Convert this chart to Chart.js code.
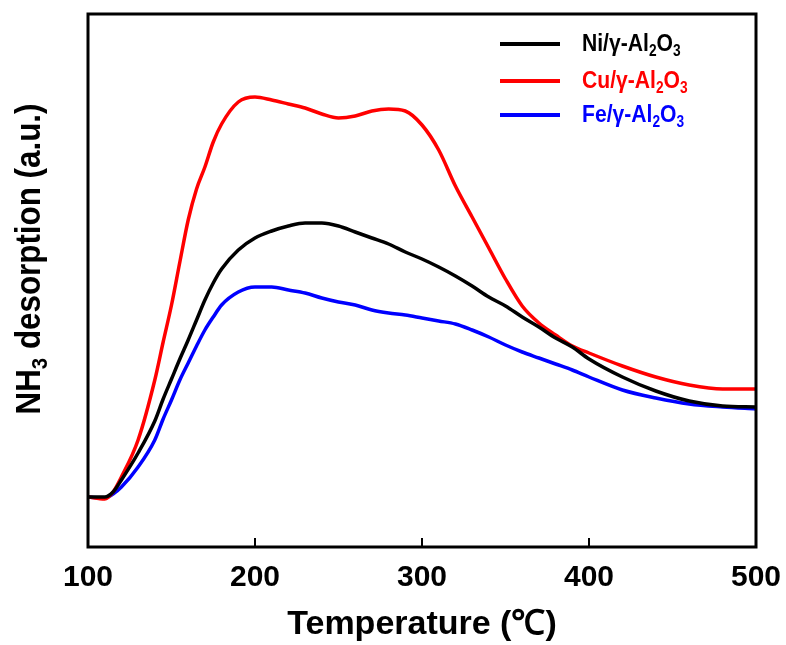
<!DOCTYPE html>
<html>
<head>
<meta charset="utf-8">
<script src="https://cdn.jsdelivr.net/npm/chart.js@4.4.1/dist/chart.umd.min.js"></script>
<style>
  html, body { margin: 0; padding: 0; background: #fff; }
  #wrap { width: 786px; height: 645px; }
</style>
</head>
<body>
<div id="wrap"><canvas id="tpdChart" width="786" height="645"></canvas></div>
<script>
// NH3-TPD curves (a.u., arbitrary units)
const temps = [100, 110, 115, 120, 130, 140, 145, 150, 155, 160, 165, 170, 175, 180, 190, 200, 210, 220, 230, 240,
  250, 260, 270, 280, 290, 300, 310, 320, 330, 340, 350, 360, 370, 380, 390, 400, 420, 440, 460, 480, 500];
const niValues = [50, 50, 55, 67, 94, 126, 148, 168, 188, 207, 227, 247, 264, 278, 297, 309, 316, 321, 324, 324,
  321, 315, 309, 303, 295, 288, 280, 271, 261, 250, 241, 230, 220, 209, 200, 188, 170, 156, 146, 141, 140];
const cuValues = [50, 48, 55, 70, 107, 167, 205, 242, 285, 327, 358, 380, 405, 423, 445, 450, 447, 443, 439, 433,
  429, 431, 436, 438, 436, 422, 397, 361, 330, 299, 268, 241, 224, 212, 201, 194, 181, 170, 162, 158, 158];
const feValues = [50, 49, 53, 60, 80, 107, 128, 147, 167, 184, 201, 217, 230, 242, 255, 260, 260, 257, 254, 249,
  245, 242, 237, 234, 232, 229, 226, 223, 217, 210, 202, 195, 189, 183, 177, 170, 157, 149, 143, 140, 138];
const seriesLabels = ['Ni/γ-Al₂O₃', 'Cu/γ-Al₂O₃', 'Fe/γ-Al₂O₃'];
const seriesColors = ['#000000', '#ff0000', '#0000ff'];
const xTicks = [100, 200, 300, 400, 500];
const yTitle = 'NH₃ desorption (a.u.)';
const xTitle = 'Temperature (℃)';

const ff = "'Liberation Sans', Arial, sans-serif";

function richParts(text) {
  const subs = '₀₁₂₃₄₅₆₇₈₉';
  const parts = [];
  for (const ch of text) {
    const i = subs.indexOf(ch);
    const sub = i >= 0;
    const c = sub ? String(i) : ch;
    const last = parts[parts.length - 1];
    if (last && last.sub === sub) last.t += c;
    else parts.push({ t: c, sub: sub });
  }
  return parts;
}

function drawRich(ctx, text, x, y, size, color, center) {
  const parts = richParts(text);
  let w = 0;
  parts.forEach(p => {
    ctx.font = 'bold ' + (p.sub ? size * 0.65 : size) + 'px ' + ff;
    p.w = ctx.measureText(p.t).width;
    w += p.w;
  });
  let cx = center ? x - w / 2 : x;
  ctx.fillStyle = color;
  ctx.textAlign = 'left';
  ctx.textBaseline = 'middle';
  parts.forEach(p => {
    ctx.font = 'bold ' + (p.sub ? size * 0.65 : size) + 'px ' + ff;
    ctx.fillText(p.t, cx, p.sub ? y + size * 0.3 : y);
    cx += p.w;
  });
}

// frame, inward ticks, y title and legend
const decorPlugin = {
  id: 'decor',
  afterDraw(chart) {
    const ctx = chart.ctx;
    const a = chart.chartArea;
    const xs = chart.scales.x;
    ctx.save();
    ctx.strokeStyle = '#000';
    ctx.lineWidth = 3;
    ctx.strokeRect(a.left, a.top, a.right - a.left, a.bottom - a.top);

    ctx.lineWidth = 2;
    xTicks.forEach(t => {
      const px = Math.round(xs.getPixelForValue(t));
      ctx.beginPath();
      ctx.moveTo(px, a.bottom);
      ctx.lineTo(px, a.bottom - 9);
      ctx.stroke();
    });

    ctx.save();
    ctx.translate(30, 259);
    ctx.rotate(-Math.PI / 2);
    ctx.scale(0.95, 1.05);
    drawRich(ctx, yTitle, 0, 0, 33, '#000', true);
    ctx.restore();

    const rows = [44, 81, 115];
    chart.data.datasets.forEach((ds, i) => {
      ctx.strokeStyle = ds.borderColor;
      ctx.lineWidth = 4;
      ctx.beginPath();
      ctx.moveTo(500, rows[i]);
      ctx.lineTo(560, rows[i]);
      ctx.stroke();
      ctx.save();
      ctx.translate(582, rows[i]);
      ctx.scale(0.88, 1);
      drawRich(ctx, ds.label, 0, 0, 24, ds.borderColor, false);
      ctx.restore();
    });
    ctx.restore();
  }
};

function makeSet(label, values, color) {
  return {
    label: label,
    data: temps.map((t, i) => ({ x: t, y: values[i] })),
    borderColor: color,
    backgroundColor: color,
    borderWidth: 3.5,
    pointRadius: 0,
    cubicInterpolationMode: 'monotone',
    fill: false
  };
}

new Chart(document.getElementById('tpdChart').getContext('2d'), {
  type: 'line',
  data: {
    datasets: [
      makeSet(seriesLabels[0], niValues, seriesColors[0]),
      makeSet(seriesLabels[1], cuValues, seriesColors[1]),
      makeSet(seriesLabels[2], feValues, seriesColors[2])
    ]
  },
  options: {
    responsive: false,
    devicePixelRatio: 1,
    animation: false,
    layout: { padding: { top: 14, right: 30, left: 0, bottom: 0 } },
    plugins: { legend: { display: false }, tooltip: { enabled: false } },
    scales: {
      x: {
        type: 'linear',
        min: 100,
        max: 500,
        afterBuildTicks: (scale) => { scale.ticks = xTicks.map(v => ({ value: v })); },
        grid: { display: false, drawTicks: false },
        border: { display: false },
        ticks: { color: '#000', padding: 13, font: { family: ff, size: 30, weight: 'bold' } },
        title: { display: true, text: xTitle, color: '#000', padding: 0, font: { family: ff, size: 34, weight: 'bold' } },
        afterFit: (scale) => {
          scale.height = 98;
          scale.paddingLeft = 0;
          scale.paddingRight = 0;
        }
      },
      y: {
        min: 0,
        max: 533,
        grid: { display: false, drawTicks: false },
        border: { display: false },
        ticks: { display: false },
        afterFit: (scale) => { scale.width = 88; }
      }
    }
  },
  plugins: [decorPlugin]
});
</script>
</body>
</html>
